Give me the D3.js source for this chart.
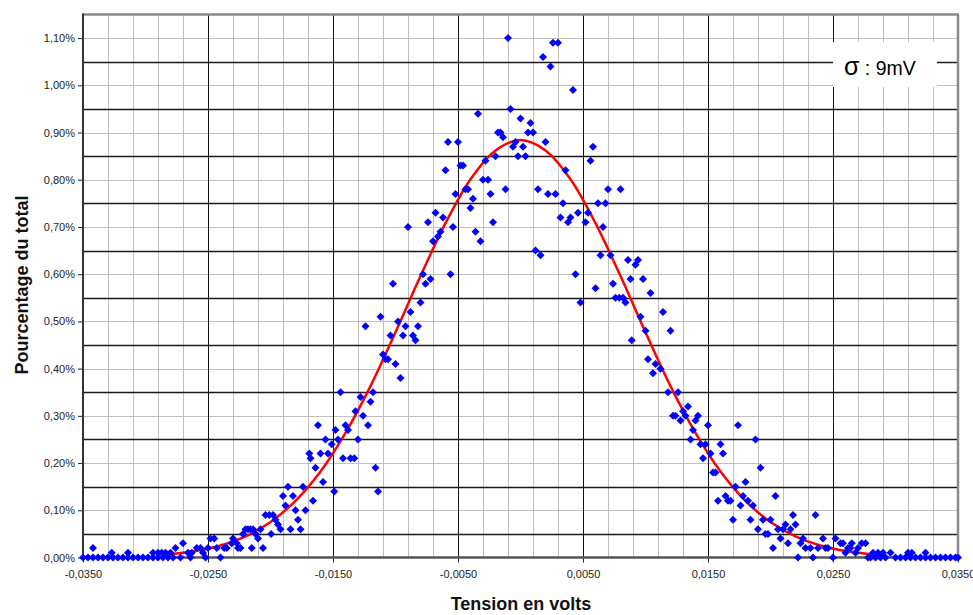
<!DOCTYPE html>
<html><head><meta charset="utf-8">
<script src="https://cdn.jsdelivr.net/npm/d3@7/dist/d3.min.js"></script>
<style>
html,body{margin:0;padding:0;background:#fff;}
svg text{font-family:"Liberation Sans",Arial,sans-serif;}
</style></head>
<body>
<svg id="chart" width="973" height="615"></svg>
<script>
// ---- Data (tension in mV, percentage of total in %) ----
const tensionMV = [
 -35.0,-34.6,-34.2,-33.8,-33.4,-33.0,-32.6,-32.2,-31.8,-31.4,-31.0,-30.6,-30.2,-29.8,-29.4,-29.0,-28.6,-28.2,-27.8,
 -27.2,-26.4,-25.2,-24.0,
 -34.2,-32.7,-31.4,-29.4,-29.0,-28.7,-28.4,-28.0,-27.6,-27.0,-26.6,-26.3,-25.9,-25.6,-25.4,-25.0,-24.8,-24.5,-24.3,
 -23.7,-23.5,-23.1,-23.0,-22.7,-22.6,-22.4,-22.2,-22.0,-21.8,-21.6,-21.5,-21.4,-21.2,-21.0,-20.8,-20.6,-20.4,-20.1,
 -19.95,-19.8,-19.6,-19.4,-19.2,-19.0,-18.8,-18.6,-18.4,-18.2,-18.0,-17.8,-17.6,-17.4,-17.2,-16.9,-16.8,-16.6,-16.4,
 -16.2,-16.0,-15.8,-15.6,-15.4,-15.1,-14.9,-14.8,-14.6,-14.4,-14.2,-14.0,-13.8,-13.6,-13.3,-13.2,-13.0,-12.8,-12.6,
 -12.4,-12.2,-12.0,-11.8,-11.6,-11.4,-11.2,-11.0,-10.8,-10.6,-10.4,-10.2,-10.0,-9.8,-9.6,-9.4,-9.2,-9.0,-8.8,-8.6,
 -8.4,-8.2,-8.0,-7.8,-7.6,-7.4,-7.2,-7.0,-6.8,-6.6,-6.4,-6.2,-6.0,-5.8,-5.6,-5.4,-5.2,-5.0,-4.8,-4.6,-4.4,-4.2,-4.0,
 -3.8,-3.6,-3.4,-3.2,-3.0,-2.8,-2.6,-2.4,-2.2,-2.0,-1.8,-1.6,-1.4,-1.2,-1.0,-0.8,-0.6,-0.4,-0.2,0.0,0.2,0.4,0.6,0.8,
 1.0,1.2,1.4,1.6,1.8,2.0,2.2,2.4,2.6,2.8,3.0,3.2,3.4,3.6,3.8,4.0,4.2,4.4,4.6,4.8,5.2,5.4,5.6,5.8,6.0,6.2,6.4,6.6,6.8,
 7.0,7.2,7.4,7.6,7.9,8.0,8.2,8.4,8.6,8.8,8.9,9.2,9.4,9.6,9.8,10.0,10.2,10.4,10.6,10.8,11.2,11.4,11.8,12.0,12.2,12.4,
 12.6,12.8,13.0,13.2,13.4,13.6,13.8,14.0,14.2,14.4,14.6,14.8,15.0,15.2,15.4,15.6,15.8,16.0,16.2,16.4,16.6,16.8,17.0,
 17.2,17.4,17.6,17.8,18.0,18.2,18.4,18.6,18.8,19.0,19.2,19.4,19.6,19.8,20.0,20.2,20.4,20.6,20.8,21.0,21.2,21.4,21.6,
 21.8,22.0,22.2,22.4,22.6,22.8,23.2,23.4,23.6,23.8,24.2,24.4,24.6,25.0,25.2,25.6,25.8,26.0,26.2,26.4,26.5,26.8,27.0,
 27.3,27.6,27.8,28.2,28.6,29.0,29.6,31.0,31.3,32.4,
 28.0,28.4,28.8,29.2,30.0,30.4,30.8,31.2,31.6,32.0,32.4,32.8,33.2,33.6,34.0,34.4,34.8,35.0
];
const pourcentage = [
 0,0,0,0,0,0,0,0,0,0,0,0,0,0,0,0,0,0,0,
 0,0,0,0,
 0.02,0.01,0.01,0.01,0.01,0.01,0.01,0.01,0.02,0.03,0.01,0.01,0.02,0.02,0.01,0.02,0.04,0.04,0.02,
 0.02,0.02,0.03,0.04,0.03,0.02,0.02,0.05,0.06,0.06,0.06,0.02,0.06,0.05,0.04,0.06,0.02,0.09,0.09,
 0.05,0.09,0.08,0.07,0.06,0.13,0.11,0.15,0.06,0.13,0.10,0.08,0.06,0.15,0.10,0.22,0.21,0.12,0.19,
 0.28,0.22,0.16,0.25,0.22,0.24,0.14,0.27,0.25,0.35,0.21,0.28,0.27,0.21,0.21,0.31,0.25,0.34,0.30,
 0.49,0.28,0.33,0.35,0.19,0.14,0.51,0.43,0.42,0.42,0.47,0.58,0.41,0.50,0.38,0.47,0.49,0.70,0.52,0.47,
 0.46,0.49,0.54,0.60,0.58,0.71,0.59,0.67,0.73,0.68,0.69,0.72,0.82,0.88,0.60,0.70,0.77,0.88,0.83,0.83,0.78,0.78,0.74,
 0.76,0.69,0.94,0.67,0.80,0.84,0.80,0.77,0.71,0.85,0.90,0.90,0.89,0.78,1.10,0.95,0.87,0.88,0.85,0.93,0.87,0.85,0.90,0.92,
 0.90,0.65,0.78,0.64,1.06,0.88,0.77,1.04,1.09,0.77,1.09,0.72,0.75,0.82,0.71,0.72,0.99,0.60,0.73,0.54,0.71,0.73,0.84,0.87,0.57,0.75,0.64,0.70,0.75,
 0.78,0.64,0.58,0.55,0.55,0.78,0.55,0.54,0.63,0.59,0.46,0.62,0.63,0.51,0.59,0.48,0.42,0.56,0.39,0.41,0.40,0.52,0.35,0.48,0.30,0.30,
 0.35,0.29,0.31,0.30,0.32,0.25,0.27,0.29,0.30,0.24,0.21,0.24,0.28,0.22,0.18,0.18,0.12,0.24,0.22,0.13,0.12,0.12,0.08,
 0.15,0.28,0.11,0.13,0.16,0.12,0.08,0.11,0.25,0.06,0.19,0.08,0.05,0.05,0.08,0.02,0.13,0.06,0.04,0.06,0.07,0.03,0.06,
 0.09,0.07,0.00,0.03,0.04,0.02,0.02,0.00,0.09,0.02,0.04,0.02,0.02,0.00,0.04,0.03,0.03,0.01,0.02,0.02,0.03,0.01,0.02,
 0.03,0.03,0.00,0.01,0.01,0.01,0.01,0.01,0.01,0.01,
 0,0,0,0,0,0,0,0,0,0,0,0,0,0,0,0,0,0
];
// fitted normal curve (sigma 9 mV)
const courbeMV  = [-28,-26,-24,-22,-20,-18,-16,-14,-12,-10,-8,-6,-4,-2,0,2,4,6,8,10,12,14,16,18,20,22,24,26,28];
const courbePct = [0.007,0.0136,0.0253,0.0446,0.075,0.120,0.182,0.264,0.363,0.477,0.596,0.708,0.801,0.862,0.884,
                   0.862,0.801,0.708,0.596,0.477,0.363,0.264,0.182,0.120,0.075,0.0446,0.0253,0.0136,0.007];
const xTickValues = [-0.035,-0.025,-0.015,-0.005,0.005,0.015,0.025,0.035];
const xTickLabels = ["-0,0350","-0,0250","-0,0150","-0,0050","0,0050","0,0150","0,0250","0,0350"];
const yTickValues = [0,0.1,0.2,0.3,0.4,0.5,0.6,0.7,0.8,0.9,1.0,1.1];
const yTickLabels = ["0,00%","0,10%","0,20%","0,30%","0,40%","0,50%","0,60%","0,70%","0,80%","0,90%","1,00%","1,10%"];
const yMajorGrid = [0.05,0.15,0.25,0.35,0.45,0.55,0.65,0.75,0.85,0.95,1.05];
const xMajorGrid = [-0.025,-0.015,-0.005,0.005,0.015,0.025];
const xMinorGrid = [-0.033,-0.031,-0.029,-0.027,-0.023,-0.021,-0.019,-0.017,-0.013,-0.011,-0.009,-0.007,-0.003,-0.001,
                    0.001,0.003,0.007,0.009,0.011,0.013,0.017,0.019,0.021,0.023,0.027,0.029,0.031,0.033];
const sigmaSymbol = "σ";
const sigmaText = " : 9mV";

// ---- Chart ----
const svg = d3.select("#chart");
const L = 83, R = 958, T = 14.5, B = 557.5;
const x = d3.scaleLinear().domain([-0.035, 0.035]).range([L, R]);
const y = d3.scaleLinear().domain([0, 1.15]).range([B, T]);

svg.append("rect").attr("width",973).attr("height",615).attr("fill","#fff");

const grid = svg.append("g");
grid.selectAll(".vmin").data(xMinorGrid).join("line")
  .attr("x1",d=>Math.round(x(d))+0.5).attr("x2",d=>Math.round(x(d))+0.5)
  .attr("y1",T).attr("y2",B).attr("stroke","#c0c0c0").attr("stroke-width",1);
grid.selectAll(".hmin").data(yTickValues.slice(1)).join("line")
  .attr("x1",L).attr("x2",R)
  .attr("y1",d=>Math.round(y(d))+0.5).attr("y2",d=>Math.round(y(d))+0.5)
  .attr("stroke","#c0c0c0").attr("stroke-width",1);
grid.selectAll(".vmaj").data(xMajorGrid).join("line")
  .attr("x1",d=>Math.round(x(d))+0.5).attr("x2",d=>Math.round(x(d))+0.5)
  .attr("y1",T).attr("y2",B).attr("stroke","#111").attr("stroke-width",1);
grid.selectAll(".hmaj").data(yMajorGrid).join("line")
  .attr("x1",L).attr("x2",R)
  .attr("y1",d=>Math.round(y(d))+0.5).attr("y2",d=>Math.round(y(d))+0.5)
  .attr("stroke","#1a1a1a").attr("stroke-width",1.3);

// border top/right
svg.append("line").attr("x1",L).attr("x2",R+1).attr("y1",T).attr("y2",T).attr("stroke","#8a8a8a").attr("stroke-width",2.5);
svg.append("line").attr("x1",R).attr("x2",R).attr("y1",T).attr("y2",B).attr("stroke","#8a8a8a").attr("stroke-width",2.5);

// sigma label box
svg.append("rect").attr("x",833).attr("y",42).attr("width",104).attr("height",45).attr("fill","#fff");
const st = svg.append("text").attr("x",844).attr("y",75).attr("fill","#000");
st.append("tspan").attr("font-size",25).text(sigmaSymbol);
st.append("tspan").attr("font-size",19.5).text(sigmaText);

// axes
const xAxis = d3.axisBottom(x).tickValues(xTickValues).tickSize(5).tickPadding(8)
  .tickFormat((d,i)=>xTickLabels[i]);
const gx = svg.append("g").attr("transform",`translate(0,${B})`).call(xAxis);
gx.select(".domain").remove();
gx.selectAll("line").attr("stroke","#222");
gx.selectAll("text").attr("font-size",11).attr("fill","#222").attr("font-family","Liberation Sans, Arial, sans-serif");

const yAxis = d3.axisLeft(y).tickValues(yTickValues).tickSize(5).tickPadding(3)
  .tickFormat((d,i)=>yTickLabels[i]);
const gy = svg.append("g").attr("transform",`translate(${L},0)`).call(yAxis);
gy.select(".domain").remove();
gy.selectAll("line").attr("stroke","#222");
gy.selectAll("text").attr("font-size",11).attr("fill","#222").attr("font-family","Liberation Sans, Arial, sans-serif");

svg.append("line").attr("x1",L).attr("x2",L).attr("y1",T-1).attr("y2",B+1).attr("stroke","#333").attr("stroke-width",2);
svg.append("line").attr("x1",L).attr("x2",R+1).attr("y1",B).attr("y2",B).attr("stroke","#555").attr("stroke-width",2.5);

// fitted curve
const line = d3.line().x(d=>x(d[0]/1000)).y(d=>y(d[1])).curve(d3.curveCatmullRom);
svg.append("path").datum(courbeMV.map((v,i)=>[v,courbePct[i]]))
  .attr("d",line).attr("fill","none").attr("stroke","#ff0000").attr("stroke-width",2.5);

// points
const diamond = "M0,-4L4,0L0,4L-4,0Z";
svg.append("g").selectAll("path").data(tensionMV.map((v,i)=>[v,pourcentage[i]])).join("path")
  .attr("d",diamond)
  .attr("transform",d=>`translate(${x(d[0]/1000)},${y(d[1])})`)
  .attr("fill","#0000ff");

// titles
svg.append("text").attr("transform","translate(28,285) rotate(-90)").attr("text-anchor","middle")
  .attr("font-size",18).attr("font-weight","bold").attr("fill","#111").text("Pourcentage du total");
svg.append("text").attr("x",521).attr("y",610).attr("text-anchor","middle")
  .attr("font-size",18).attr("font-weight","bold").attr("fill","#111").text("Tension en volts");
</script>
</body></html>
